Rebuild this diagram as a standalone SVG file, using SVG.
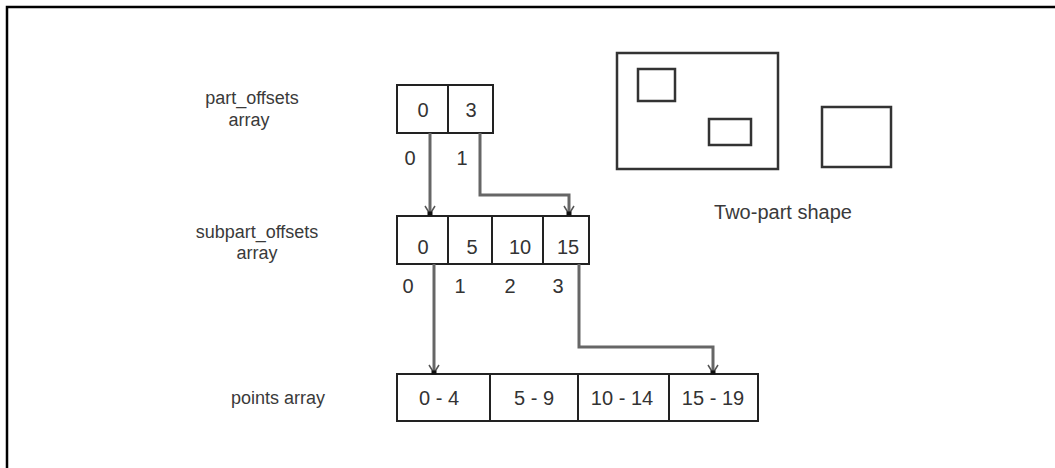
<svg xmlns="http://www.w3.org/2000/svg" width="1055" height="468" viewBox="0 0 1055 468">
  <style>
    .lbl { font-family: "Liberation Sans", Arial, sans-serif; font-size: 18px; fill: #3a3a3a; text-anchor: middle; }
    .cap { font-family: "Liberation Sans", Arial, sans-serif; font-size: 20px; fill: #3a3a3a; text-anchor: middle; }
    .num { font-family: "Liberation Sans", Arial, sans-serif; font-size: 20px; fill: #333; text-anchor: middle; }
    .cell { fill: #fff; stroke: #222; stroke-width: 2; }
    .shape { fill: none; stroke: #333; stroke-width: 2.5; }
    .conn { fill: none; stroke: #666; stroke-width: 3; }
  </style>
  <defs>
    <!-- open V head with a dark tip, pointing along the path direction -->
    <marker id="arrow" viewBox="-10 -7 12 14" refX="0" refY="0" markerWidth="12" markerHeight="14" markerUnits="userSpaceOnUse" orient="auto" overflow="visible">
      <path d="M-8,-5 L0,0 L-8,5" fill="none" stroke="#555" stroke-width="1.5"/>
      <rect x="-2.5" y="-2.5" width="4" height="5" fill="#111"/>
    </marker>
  </defs>
  <rect width="1055" height="468" fill="#fff"/>

  <!-- frame -->
  <path d="M7,468 L7,7 L1055,7" fill="none" stroke="#000" stroke-width="2.5"/>

  <!-- side labels -->
  <g id="label-part">
    <text class="lbl" x="252" y="104">part_offsets</text>
    <text class="lbl" x="249" y="126">array</text>
  </g>
  <g id="label-subpart">
    <text class="lbl" x="257" y="238">subpart_offsets</text>
    <text class="lbl" x="257" y="259">array</text>
  </g>
  <g id="label-points">
    <text class="lbl" x="278" y="404">points array</text>
  </g>

  <!-- part_offsets array -->
  <g id="part-offsets">
    <rect class="cell" x="397" y="85" width="51" height="48"/>
    <rect class="cell" x="448" y="85" width="45" height="48"/>
    <text class="num" x="423" y="117">0</text>
    <text class="num" x="471" y="117">3</text>
    <text class="num" x="410" y="165">0</text>
    <text class="num" x="462" y="165">1</text>
  </g>

  <!-- subpart_offsets array -->
  <g id="subpart-offsets">
    <rect class="cell" x="397" y="216" width="51" height="48"/>
    <rect class="cell" x="448" y="216" width="44" height="48"/>
    <rect class="cell" x="492" y="216" width="51" height="48"/>
    <rect class="cell" x="543" y="216" width="46" height="48"/>
    <text class="num" x="423" y="254">0</text>
    <text class="num" x="472" y="254">5</text>
    <text class="num" x="520" y="254">10</text>
    <text class="num" x="568" y="254">15</text>
    <text class="num" x="408" y="293">0</text>
    <text class="num" x="460" y="293">1</text>
    <text class="num" x="510" y="293">2</text>
    <text class="num" x="558" y="293">3</text>
  </g>

  <!-- points array -->
  <g id="points">
    <rect class="cell" x="397" y="374" width="93" height="47"/>
    <rect class="cell" x="490" y="374" width="88" height="47"/>
    <rect class="cell" x="578" y="374" width="91" height="47" stroke-width="2.5"/>
    <rect class="cell" x="669" y="374" width="89" height="47"/>
    <text class="num" x="439" y="405">0 - 4</text>
    <text class="num" x="534" y="405">5 - 9</text>
    <text class="num" x="622" y="405">10 - 14</text>
    <text class="num" x="713" y="405">15 - 19</text>
  </g>

  <!-- two-part shape -->
  <g id="two-part-shape">
    <rect class="shape" x="617" y="53" width="161" height="116"/>
    <rect class="shape" x="638" y="69" width="37" height="32"/>
    <rect class="shape" x="709" y="119" width="42" height="26"/>
    <rect class="shape" x="822" y="107" width="69" height="60"/>
    <text class="cap" x="783" y="219">Two-part shape</text>
  </g>

  <!-- connectors -->
  <g id="connectors">
    <path class="conn" d="M430,133 L430,214" marker-end="url(#arrow)"/>
    <path class="conn" d="M480,133 L480,195 L569,195 L569,214" marker-end="url(#arrow)"/>
    <path class="conn" d="M434,264 L434,373" marker-end="url(#arrow)"/>
    <path class="conn" d="M579,264 L579,347 L713,347 L713,373" marker-end="url(#arrow)"/>
  </g>
</svg>
